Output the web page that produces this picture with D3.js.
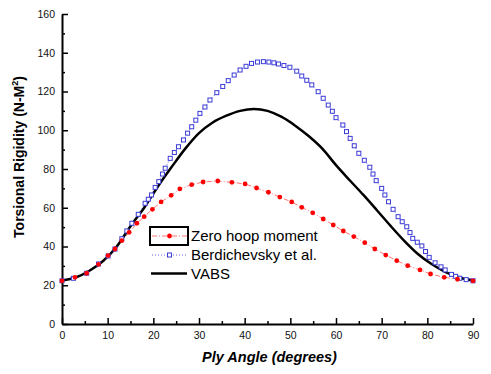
<!DOCTYPE html>
<html>
<head>
<meta charset="utf-8">
<script src="https://cdn.jsdelivr.net/npm/d3@7"></script>
<style>
  body { margin: 0; background: #fff; }
  svg { font-family: "Liberation Sans", Arial, sans-serif; }
</style>
</head>
<body>
<div id="chart"></div>
<script>
// Zero hoop moment (red dots)
const zeroAngle = [0, 2.85, 5.4, 8, 10.1, 11.6, 13.1, 14.7, 16.4, 18, 19.8, 21.7, 23.9, 25.8, 28.4, 30.9, 34.1, 37.2, 40.1, 42.6, 45.2, 47.7, 50.3, 52.5, 54.9, 57.2, 59.4, 61.6, 63.9, 66.3, 68.5, 70.9, 73.3, 75.7, 78.4, 80.7, 83.7, 86.6, 90]
const zeroValue = [22.3, 24.1, 26.2, 30.8, 35.3, 38.7, 43, 47.3, 52, 55.4, 59.2, 63, 66.4, 69.7, 71.9, 73.3, 73.8, 73.1, 72.3, 70.2, 68, 65.5, 63, 60.2, 57.4, 54.2, 51.1, 48, 45.1, 42, 38.7, 35.6, 32.7, 30.1, 27.9, 25.8, 24.1, 23.1, 22.3]

// Berdichevsky et al. (blue squares)
const berdAngle = [0, 2.5, 5.4, 8, 10.1, 11.6, 13.1, 14.2, 15.3, 16.7, 18.2, 18.9, 19.6, 20.4, 21.2, 22, 22.6, 23.7, 24.6, 25.5, 26.6, 27.5, 28.4, 29.3, 30.2, 31.3, 32.4, 33.9, 35.2, 36.4, 37.7, 39, 40.3, 41.5, 42.8, 44.1, 45.3, 46.4, 47.4, 48.6, 49.9, 51.4, 52.5, 53.6, 54.7, 56.1, 57.2, 58.3, 59.2, 60, 61.5, 62.3, 63.1, 64, 65, 66.2, 67.4, 68.1, 68.8, 70, 70.7, 71.5, 72.5, 73.6, 74.5, 75.5, 76.2, 76.8, 77.8, 78.8, 79.6, 80.4, 81.7, 83, 83.9, 85.3, 86.2, 87.1, 88.5, 90]
const berdValue = [22.3, 23.6, 26.2, 31, 35.1, 38.7, 44, 48, 52, 56.6, 62.3, 64.4, 66.6, 70.5, 73.5, 77.4, 80.4, 85.5, 88.5, 91.5, 95, 98.5, 101.8, 105.2, 108.7, 112, 115.6, 119.4, 122.6, 125.6, 128.5, 131.1, 133, 134.5, 135.2, 135.4, 135.2, 134.8, 134.2, 133.4, 132.5, 130.5, 128, 125.8, 123.4, 119.9, 116.5, 113, 109.8, 106.5, 102.7, 99.3, 95.8, 92, 88.1, 84.5, 80.9, 77.4, 74, 70, 66.6, 63.1, 59.2, 55.4, 52.8, 50.2, 47.2, 44.2, 42.2, 40.3, 37.4, 34.4, 31.6, 29.5, 27.9, 25.6, 24.6, 23.6, 22.9, 22.3]

// VABS (solid black)
const vabsAngle = [0, 3, 6, 9, 12, 15, 18, 21, 24, 27, 30, 33, 36, 39, 42, 45, 48, 51, 54, 57, 60, 63, 66, 69, 72, 75, 78, 81, 84, 87, 90]
const vabsValue = [22.5, 24, 27.5, 32.5, 40, 50.5, 60, 71, 81, 90.5, 98.5, 104, 107.5, 110, 111, 110, 107, 102.5, 97, 90.5, 82, 74.2, 66.6, 58.6, 50.5, 42.8, 36, 30.8, 26.8, 24, 22.5]

const xMajor = d3.range(0, 91, 10)
const xMinor = d3.range(5, 90, 10)
const yMajor = d3.range(0, 161, 20)
const yMinor = d3.range(10, 160, 20)

const width = 491
const height = 374
const plotLeft = 62, plotRight = 473, plotTop = 14, plotBottom = 324

const svg = d3.select("#chart").append("svg")
  .attr("width", width)
  .attr("height", height)

const xScale = d3.scaleLinear().domain([0, 90]).range([plotLeft, plotRight])
const yScale = d3.scaleLinear().domain([0, 160]).range([plotBottom, plotTop])

const zip = (a, b) => a.map((v, i) => [v, b[i]])
const line = d3.line().x(d => xScale(d[0])).y(d => yScale(d[1]))
const smoothLine = d3.line().x(d => xScale(d[0])).y(d => yScale(d[1])).curve(d3.curveMonotoneX)

// axes
svg.append("g")
  .attr("transform", `translate(0, ${plotBottom})`)
  .call(d3.axisBottom(xScale).tickValues(xMajor).tickSizeInner(-6).tickSizeOuter(0).tickPadding(8))
svg.append("g")
  .attr("transform", `translate(0, ${plotBottom})`)
  .call(d3.axisBottom(xScale).tickValues(xMinor).tickSizeInner(-3).tickSizeOuter(0).tickFormat(""))
  .select(".domain").remove()

svg.append("g")
  .attr("transform", `translate(${plotLeft}, 0)`)
  .call(d3.axisLeft(yScale).tickValues(yMajor).tickSizeInner(-6).tickSizeOuter(0).tickPadding(7))
svg.append("g")
  .attr("transform", `translate(${plotLeft}, 0)`)
  .call(d3.axisLeft(yScale).tickValues(yMinor).tickSizeInner(-3).tickSizeOuter(0).tickFormat(""))
  .select(".domain").remove()

svg.selectAll(".domain").attr("stroke", "#000").attr("stroke-width", 2)
svg.selectAll(".tick line").attr("stroke", "#000").attr("stroke-width", 1.5)
svg.selectAll(".tick text").attr("font-size", 10.5).attr("fill", "#111")
  .attr("font-family", "'Liberation Sans', Arial, sans-serif")

const yLabel = svg.append("text")
  .attr("transform", `translate(24, 157) rotate(-90)`)
  .attr("text-anchor", "middle")
  .attr("font-size", 14)
  .attr("font-weight", "bold")
yLabel.append("tspan").text("Torsional Rigidity (N-M")
yLabel.append("tspan").attr("dy", -6).attr("font-size", 9).text("2")
yLabel.append("tspan").attr("dy", 6).text(")")

svg.append("text")
  .attr("x", (plotLeft + plotRight) / 2 + 2)
  .attr("y", 362)
  .attr("text-anchor", "middle")
  .attr("font-size", 14.5)
  .attr("font-weight", "bold")
  .attr("font-style", "italic")
  .text("Ply Angle (degrees)")

// series
const zeroData = zip(zeroAngle, zeroValue)
const berdData = zip(berdAngle, berdValue)
const vabsData = zip(vabsAngle, vabsValue)

svg.append("path")
  .datum(berdData)
  .attr("fill", "none")
  .attr("stroke", "#3b3bd6")
  .attr("stroke-width", 0.8)
  .attr("stroke-dasharray", "1,2")
  .attr("d", line)

svg.append("path")
  .datum(zeroData)
  .attr("fill", "none")
  .attr("stroke", "#ff5050")
  .attr("stroke-width", 0.8)
  .attr("stroke-dasharray", "5,2,1,2")
  .attr("d", line)

svg.append("path")
  .datum(vabsData)
  .attr("fill", "none")
  .attr("stroke", "#000")
  .attr("stroke-width", 2.5)
  .attr("stroke-linejoin", "round")
  .attr("d", smoothLine)

svg.selectAll(".berd-dot")
  .data(berdData)
  .enter()
  .append("rect")
  .attr("class", "berd-dot")
  .attr("x", d => xScale(d[0]) - 2)
  .attr("y", d => yScale(d[1]) - 2)
  .attr("width", 4)
  .attr("height", 4)
  .attr("fill", "#fff")
  .attr("stroke", "#3b3bd6")
  .attr("stroke-width", 1)

svg.selectAll(".zero-dot")
  .data(zeroData)
  .enter()
  .append("circle")
  .attr("class", "zero-dot")
  .attr("cx", d => xScale(d[0]))
  .attr("cy", d => yScale(d[1]))
  .attr("r", 2.4)
  .attr("fill", "#f00")

// legend
const legend = svg.append("g")
legend.append("rect")
  .attr("x", 150).attr("y", 227)
  .attr("width", 38).attr("height", 18)
  .attr("fill", "none").attr("stroke", "#000").attr("stroke-width", 2)

const rows = [
  {label: "Zero hoop moment", y: 236},
  {label: "Berdichevsky et al.", y: 255},
  {label: "VABS", y: 273.5}
]
legend.append("line").attr("x1", 152).attr("x2", 187).attr("y1", rows[0].y).attr("y2", rows[0].y)
  .attr("stroke", "#ff5050").attr("stroke-width", 0.8).attr("stroke-dasharray", "5,2,1,2")
legend.append("circle").attr("cx", 169.5).attr("cy", rows[0].y).attr("r", 2.4).attr("fill", "#f00")
legend.append("line").attr("x1", 152).attr("x2", 187).attr("y1", rows[1].y).attr("y2", rows[1].y)
  .attr("stroke", "#3b3bd6").attr("stroke-width", 0.8).attr("stroke-dasharray", "1,2")
legend.append("rect").attr("x", 167.5).attr("y", rows[1].y - 2).attr("width", 4).attr("height", 4)
  .attr("fill", "#fff").attr("stroke", "#3b3bd6")
legend.append("line").attr("x1", 151).attr("x2", 187).attr("y1", rows[2].y).attr("y2", rows[2].y)
  .attr("stroke", "#000").attr("stroke-width", 2.5)

legend.selectAll(".legend-text")
  .data(rows)
  .enter()
  .append("text")
  .attr("x", 191)
  .attr("y", d => d.y + 5)
  .attr("font-size", 15)
  .attr("fill", "#000")
  .text(d => d.label)
</script>
</body>
</html>
